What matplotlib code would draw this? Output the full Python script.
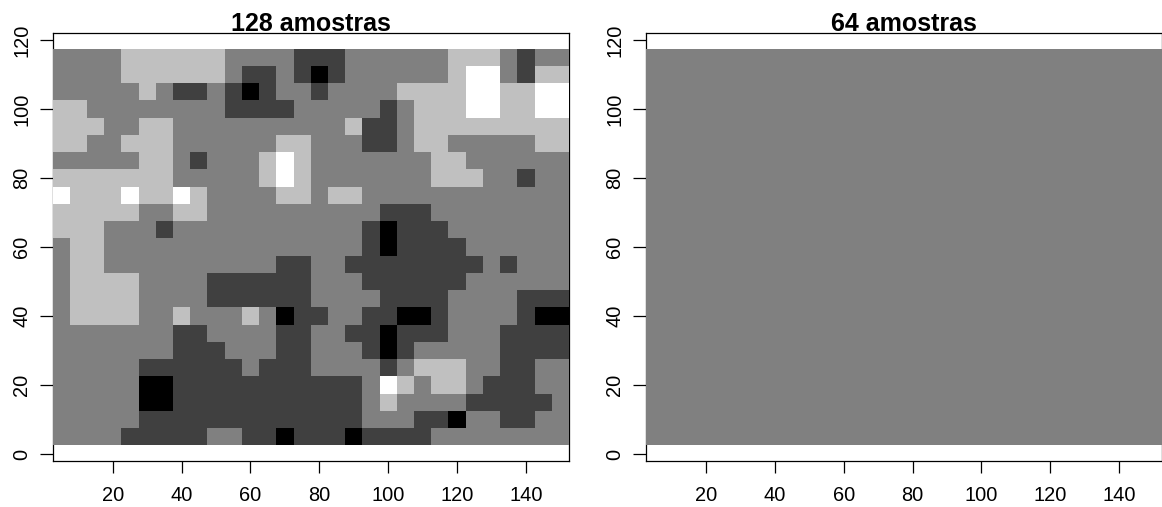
import numpy as np
import matplotlib
matplotlib.use("Agg")
import matplotlib.pyplot as plt

plt.rcParams['font.family'] = ['Liberation Sans', 'DejaVu Sans']

# grid cell centres (5 unit spacing)
x_centers = np.arange(5, 155, 5)
y_centers = np.arange(115, 0, -5)

# classes per cell, top row first (0 black ... 4 white)
rows_128 = [
    "222233333322221112222223332122",
    "222233333321121012222223442133",
    "222223211210122122223333443344",
    "332222222211112222212333443344",
    "333223322222222223112333333333",
    "332233322222233222112332222233",
    "222223321222343222222233222222",
    "333333322222343222222233322122",
    "433343343222233233222222222222",
    "333332233222222222211122222222",
    "333222122222222222101112222222",
    "233222222222222222101111222222",
    "233222222222211221111111121222",
    "233332222111111222111111222222",
    "233332222111111222211112222111",
    "233332232223201122110012222100",
    "222222211222211221101112221111",
    "222222211122211222101222221111",
    "222221111112111222212333221122",
    "222220011111111111243233211122",
    "222220011111111111232222111112",
    "222221111111111111222110221122",
    "222211111221101110111122222222",
]
# the 64 sample map comes out flat, one class everywhere
value_64 = 2

x_ticks = [20, 40, 60, 80, 100, 120, 140]
y_ticks = [0, 20, 40, 60, 80, 100, 120]
titles = ["128 amostras", "64 amostras"]

grid_128 = np.array([[int(c) for c in r] for r in rows_128])
grid_64 = np.full(grid_128.shape, value_64)

W, H = 1162, 507
fig = plt.figure(figsize=(W / 100, H / 100), dpi=100)
ax1 = fig.add_axes([52.5 / W, (H - 460.5) / H, 516.5 / W, 427.5 / H])
ax2 = fig.add_axes([645.8 / W, (H - 460.5) / H, 516.2 / W, 427.5 / H])

for ax, grid, title in zip([ax1, ax2], [grid_128, grid_64], titles):
    # mesh sits on top of the box, same as the original
    ax.pcolormesh(x_centers, y_centers, grid, shading='nearest', cmap='gray',
                  vmin=0, vmax=4, zorder=3, clip_on=False, antialiased=False)
    ax.set_xlim(2.5, 152.5)
    ax.set_ylim(-1.9, 122)
    ax.set_xticks(x_ticks)
    ax.set_yticks(y_ticks)
    ax.tick_params(axis='x', length=8.6, width=0.9, labelsize=14.4, pad=9.5, color='black')
    ax.tick_params(axis='y', length=9.4, width=0.9, labelsize=14.4, pad=6, color='black')
    plt.setp(ax.get_yticklabels(), rotation=90, va='center')
    for spine in ax.spines.values():
        spine.set_linewidth(0.9)
    ax.set_title(title, fontsize=18, fontweight='bold', y=1.0, pad=1.5)

fig.savefig('out.png', dpi=100)
